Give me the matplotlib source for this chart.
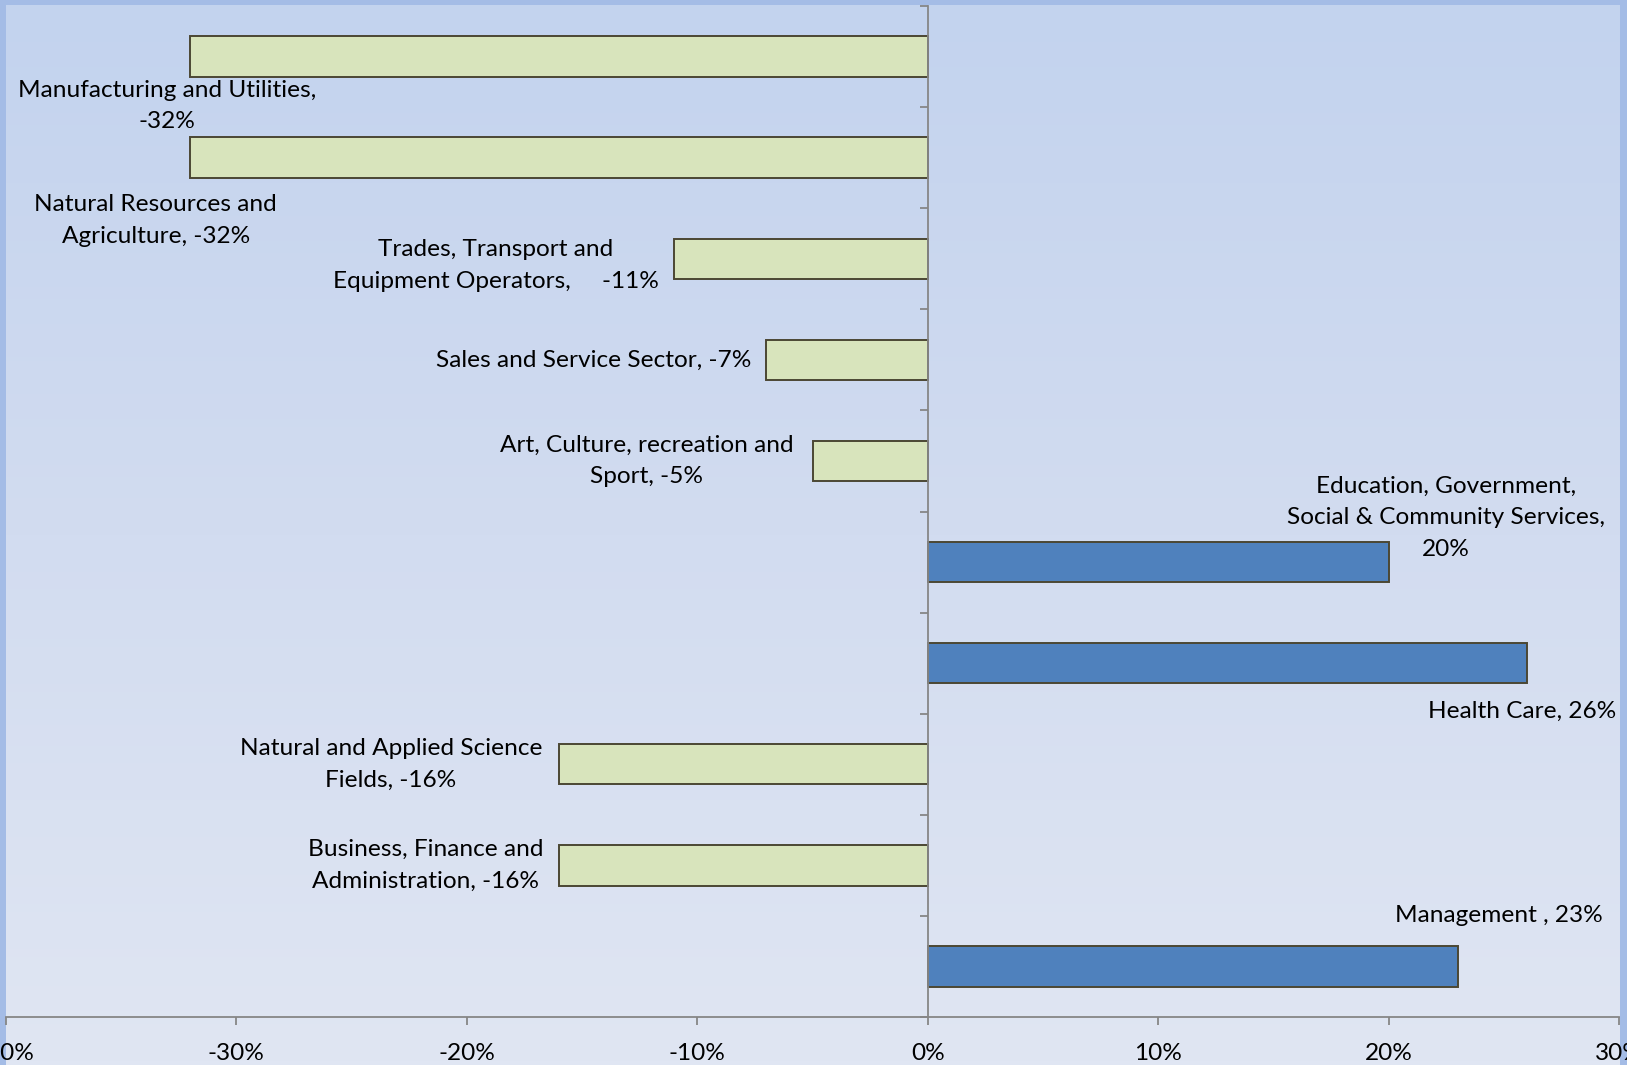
import matplotlib
matplotlib.use("Agg")
import matplotlib.pyplot as plt
import numpy as np
from matplotlib.colors import LinearSegmentedColormap

# ---- data ----
categories = ["Manufacturing and Utilities", "Natural Resources and Agriculture",
              "Trades, Transport and Equipment Operators", "Sales and Service Sector",
              "Art, Culture, recreation and Sport",
              "Education, Government, Social & Community Services", "Health Care",
              "Natural and Applied Science Fields", "Business, Finance and Administration",
              "Management"]
values = [-32, -32, -11, -7, -5, 20, 26, -16, -16, 23]
label_texts = ["Manufacturing and Utilities,\n-32%",
               "Natural Resources and\nAgriculture, -32%",
               "Trades, Transport and\nEquipment Operators,     -11%",
               "Sales and Service Sector, -7%",
               "Art, Culture, recreation and\nSport, -5%",
               "Education, Government,\nSocial & Community Services,\n20%",
               "Health Care, 26%",
               "Natural and Applied Science\nFields, -16%",
               "Business, Finance and\nAdministration, -16%",
               "Management , 23%"]
x_ticks = [-40, -30, -20, -10, 0, 10, 20, 30]
x_tick_labels = ["-40%", "-30%", "-20%", "-10%", "0%", "10%", "20%", "30%"]

# label placement (x in data units, vertical offset in category rows)
label_x = [-33.0, -33.5, -18.75, -14.5, -12.2, 22.5, 25.8, -23.3, -21.8, 24.8]
label_dy = [0.49, 0.62, 0.07, 0.0, 0.0, -0.44, 0.48, 0.0, 0.0, -0.5]

FONT = "Lato"
FS = 17.6
W, H = 1627, 1065

fig = plt.figure(figsize=(W / 100, H / 100), dpi=100)
fig.patch.set_facecolor("#a4bce6")

# gradient background panel
bg = fig.add_axes([6 / W, 0, (1620 - 6) / W, (H - 5) / H])
bg.set_axis_off()
cmap = LinearSegmentedColormap.from_list("g", ["#c3d3ee", "#d2dcf0", "#e0e6f3"])
grad = np.linspace(0, 1, 256).reshape(-1, 1)
bg.imshow(grad, aspect="auto", cmap=cmap, extent=[0, 1, 0, 1], origin="upper")
bg.set_xlim(0, 1)
bg.set_ylim(0, 1)

# main axes
left, right = 6 / W, 1619 / W
bottom, top = (H - 1017) / H, (H - 6) / H
ax = fig.add_axes([left, bottom, right - left, top - bottom])
ax.patch.set_alpha(0)

ypos = np.arange(len(categories))
colors = ["#4f81bd" if v > 0 else "#d8e4bc" for v in values]
ax.barh(ypos, values, height=0.4, color=colors, edgecolor="#4b4733", linewidth=1.4, zorder=3)

ax.set_xlim(-40, 30)
ax.set_ylim(len(categories) - 0.5, -0.5)

for s in ["top", "right"]:
    ax.spines[s].set_visible(False)
ax.spines["left"].set_position(("data", 0))
for s in ["left", "bottom"]:
    ax.spines[s].set_color("#868686")
    ax.spines[s].set_linewidth(1.3)
    ax.spines[s].set_zorder(4)

ax.set_yticks(np.arange(-0.5, len(categories), 1.0))
ax.set_yticklabels([])
ax.tick_params(axis="y", direction="out", length=6, width=1.3, color="#868686")

ax.set_xticks(x_ticks)
ax.set_xticklabels(x_tick_labels, fontfamily=FONT, fontsize=FS)
ax.tick_params(axis="x", direction="out", length=6, width=1.3, color="#868686",
               pad=13, labelcolor="black")

for i, txt in enumerate(label_texts):
    ax.text(label_x[i], ypos[i] + label_dy[i], txt, ha="center", va="center",
            fontfamily=FONT, fontsize=FS, color="black", linespacing=1.63, zorder=5)

fig.savefig("out.png", dpi=100, facecolor=fig.get_facecolor())
